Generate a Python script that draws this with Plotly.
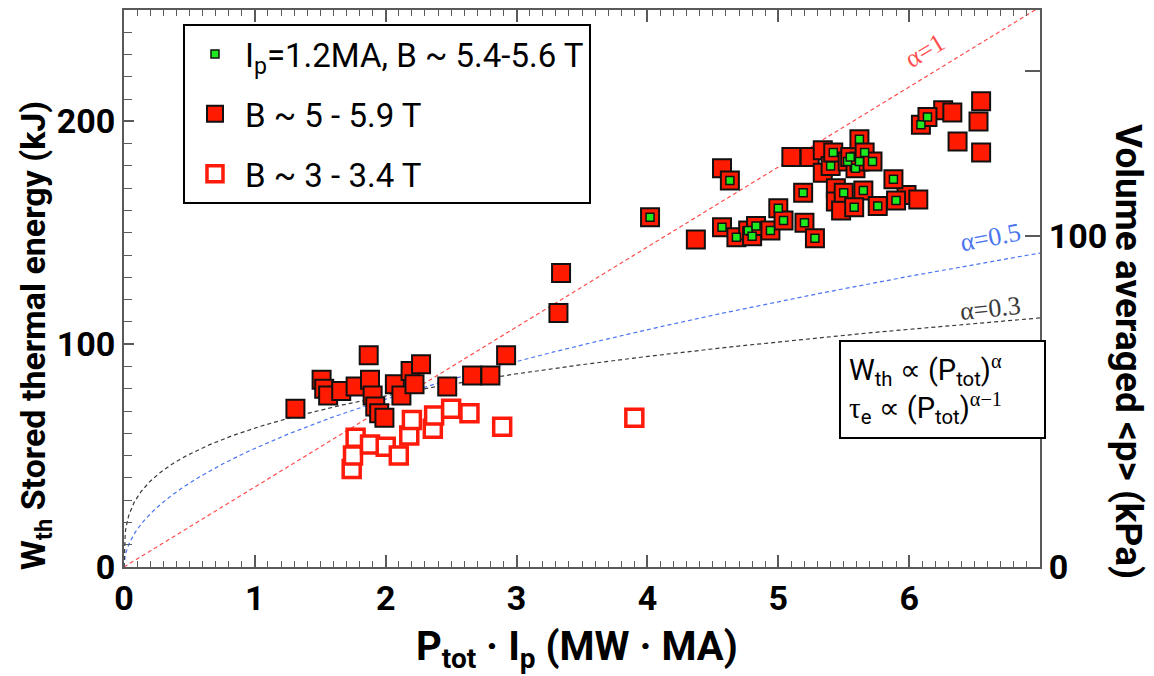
import numpy as np
import plotly.graph_objects as go

# ---------------- data ----------------
# B ~ 3 - 3.4 T  (open red squares)
b3_x = [1.74, 1.75, 1.77, 1.88, 2.00, 2.10, 2.18, 2.20, 2.36, 2.37, 2.50, 2.64, 2.89, 3.90]
b3_y = [44, 50, 58, 55, 54, 50, 59, 66, 62, 68, 71, 69, 63, 67]

# B ~ 5 - 5.9 T  (filled red squares, excluding the Ip = 1.2 MA subset below)
b5_x = [1.31, 1.51, 1.53, 1.56, 1.66, 1.77, 1.87, 1.88, 1.90, 1.92, 1.95, 1.99,
        2.07, 2.12, 2.19, 2.22, 2.27, 2.47, 2.66, 2.80, 2.92, 3.32, 3.34,
        4.37, 4.57, 5.10, 5.24, 5.34, 5.34, 5.44, 5.44, 5.48, 5.98, 6.07,
        6.26, 6.33, 6.55, 6.53, 6.37, 6.55]
b5_y = [71, 84, 80, 77, 79, 81, 95, 84, 77, 72, 69, 67,
        82, 77, 88, 82, 91, 81, 86, 86, 95, 114, 132,
        147, 179, 184, 184, 187, 177, 170, 164, 160, 167, 165,
        205, 204, 209, 200, 191, 186]

# Ip = 1.2 MA, B ~ 5.4-5.6 T  (green markers, also part of the B ~ 5-5.9 T set)
ip_x = [4.02, 4.63, 4.57, 4.68, 4.77, 4.80, 4.83, 4.94, 5.00, 5.04, 5.19, 5.20,
        5.28, 5.40, 5.42, 5.53, 5.55, 5.59, 5.62, 5.62, 5.66, 5.72, 5.50, 5.65,
        5.58, 5.76, 5.88, 5.90, 6.09, 6.14]
ip_y = [157, 173.5, 152.5, 148, 151, 148.5, 153, 151, 161, 155.5, 168, 154.5,
        147.5, 180, 186, 182, 184, 179, 192, 182, 186, 182, 168, 169,
        161.5, 162, 174, 164.5, 198.5, 202]

# scaling curves W ~ P^alpha, all through a common pivot point
alphas = [1.0, 0.5, 0.3]
alpha_colors = ["#ff4d4d", "#4a74f0", "#3a3a3a"]
alpha_labels = ["α=1", "α=0.5", "α=0.3"]
pivot_x, pivot_y = 2.2, 79.0
label_x = [6.12, 6.62, 6.62]
label_y = [232, 148, 116]
label_angle = [-31, -11, -6]

x_range = [0, 7]
y_range = [0, 250]
p_range = [0, 168.4]
x_ticks = [0, 1, 2, 3, 4, 5, 6]
y_ticks = [0, 100, 200]
p_ticks = [0, 50, 100, 150]
p_ticktext = ["0", "", "100", ""]

# ---------------- figure ----------------
fig = go.Figure()

xs = np.linspace(x_range[0], x_range[1], 1401)
for a, col in zip(alphas, alpha_colors):
    fig.add_trace(go.Scatter(
        x=xs, y=pivot_y * (xs / pivot_x) ** a, mode="lines",
        line=dict(color=col, width=1.2, dash="4px,3px"),
        showlegend=False, hoverinfo="skip"))

fig.add_trace(go.Scatter(
    x=b3_x, y=b3_y, mode="markers", name="B ~ 3 - 3.4 T",
    legendgroup="c", legendrank=3,
    marker=dict(symbol="square", size=17, color="white",
                line=dict(color="#ff1a0a", width=3.5))))

fig.add_trace(go.Scatter(
    x=b5_x + ip_x, y=b5_y + ip_y, mode="markers", name="B ~ 5 - 5.9 T",
    legendgroup="b", legendrank=2,
    marker=dict(symbol="square", size=18, color="#ff1a00",
                line=dict(color="#111111", width=2))))

fig.add_trace(go.Scatter(
    x=ip_x, y=ip_y, mode="markers", name="I<sub>p</sub>=1.2MA, B ~ 5.4-5.6 T",
    legendgroup="a", legendrank=1,
    marker=dict(symbol="square", size=8, color="#1ee81e",
                line=dict(color="#111111", width=1.5))))

# invisible trace to carry the right axis
fig.add_trace(go.Scatter(x=[None], y=[None], yaxis="y2", showlegend=False,
                         hoverinfo="skip"))

axis_col = "#5a5a5a"
tickfont = dict(family="Roboto, Arial, sans-serif", size=34, color="black",
                weight="bold")

fig.update_layout(
    width=1154, height=676, autosize=False,
    margin=dict(l=124, r=114, t=8, b=109),
    paper_bgcolor="white", plot_bgcolor="white",
    font=dict(family="Roboto, Arial, sans-serif", color="black"),
    legend=dict(x=0.0644, y=0.975, xanchor="left", yanchor="top",
                bgcolor="white", bordercolor="black", borderwidth=2,
                font=dict(size=33, family="Roboto, Arial, sans-serif"),
                itemsizing="trace", itemwidth=50, tracegroupgap=14,
                traceorder="grouped"),
    xaxis=dict(range=x_range, tickvals=x_ticks, showline=True,
               linecolor=axis_col, linewidth=2, mirror="ticks",
               ticks="inside", ticklen=12, tickwidth=1.5, tickcolor=axis_col,
               minor=dict(dtick=0.1, tick0=0, ticks="inside", ticklen=6,
                          tickwidth=1, tickcolor=axis_col),
               showgrid=False, zeroline=False, tickfont=tickfont),
    yaxis=dict(range=y_range, tickvals=y_ticks, showline=True,
               linecolor=axis_col, linewidth=2, ticks="inside", ticklen=10,
               tickwidth=1.5, tickcolor=axis_col,
               minor=dict(dtick=10, tick0=0, ticks="inside", ticklen=8,
                          tickwidth=1, tickcolor=axis_col),
               showgrid=False, zeroline=False, tickfont=tickfont),
    yaxis2=dict(range=p_range, overlaying="y", side="right",
                tickvals=p_ticks, ticktext=p_ticktext, showline=True,
                linecolor=axis_col, linewidth=2, ticks="inside", ticklen=15,
                tickwidth=1.5, tickcolor=axis_col, showgrid=False,
                zeroline=False, tickfont=tickfont),
)

# alpha labels
for lx, ly, lt, ang, col in zip(label_x, label_y, alpha_labels, label_angle,
                                alpha_colors):
    fig.add_annotation(x=lx, y=ly, xref="x", yref="y", text=lt,
                       textangle=ang, showarrow=False,
                       font=dict(family="Liberation Serif, serif", size=26,
                                 color=col))

serif = "font-family:Liberation Serif"
fig.add_annotation(
    x=0.894, y=0.318, xref="paper", yref="paper", xanchor="center",
    yanchor="middle", showarrow=False, align="left", width=187,
    text=("W<sub>th</sub> ∝ (P<sub>tot</sub>)<sup><span style='%s'>α</span></sup><br>"
          "<span style='%s'>τ</span><sub>e</sub> ∝ (P<sub>tot</sub>)"
          "<sup><span style='%s'>α−1</span></sup>") % (serif, serif, serif),
    font=dict(family="Roboto, Arial, sans-serif", size=29, color="black"),
    bgcolor="white", bordercolor="black", borderwidth=2, borderpad=8)

# axis titles
title_font = dict(family="Roboto, Arial, sans-serif", size=36, color="black",
                  weight="bold")
fig.add_annotation(x=0.4945, y=-0.148, xref="paper", yref="paper",
                   text="P<sub>tot</sub> · I<sub>p</sub> (MW · MA)",
                   showarrow=False, font=dict(title_font, size=40),
                   xanchor="center", yanchor="middle")
fig.add_annotation(x=-0.096, y=0.415, xref="paper", yref="paper",
                   text="W<sub>th</sub> Stored thermal energy (kJ)",
                   textangle=-90, showarrow=False,
                   font=dict(title_font, size=34),
                   xanchor="center", yanchor="middle")
fig.add_annotation(x=1.096, y=0.386, xref="paper", yref="paper",
                   text="Volume averaged &lt;p&gt; (kPa)",
                   textangle=90, showarrow=False,
                   font=dict(title_font, size=37),
                   xanchor="center", yanchor="middle")

fig.write_html("out.html")
